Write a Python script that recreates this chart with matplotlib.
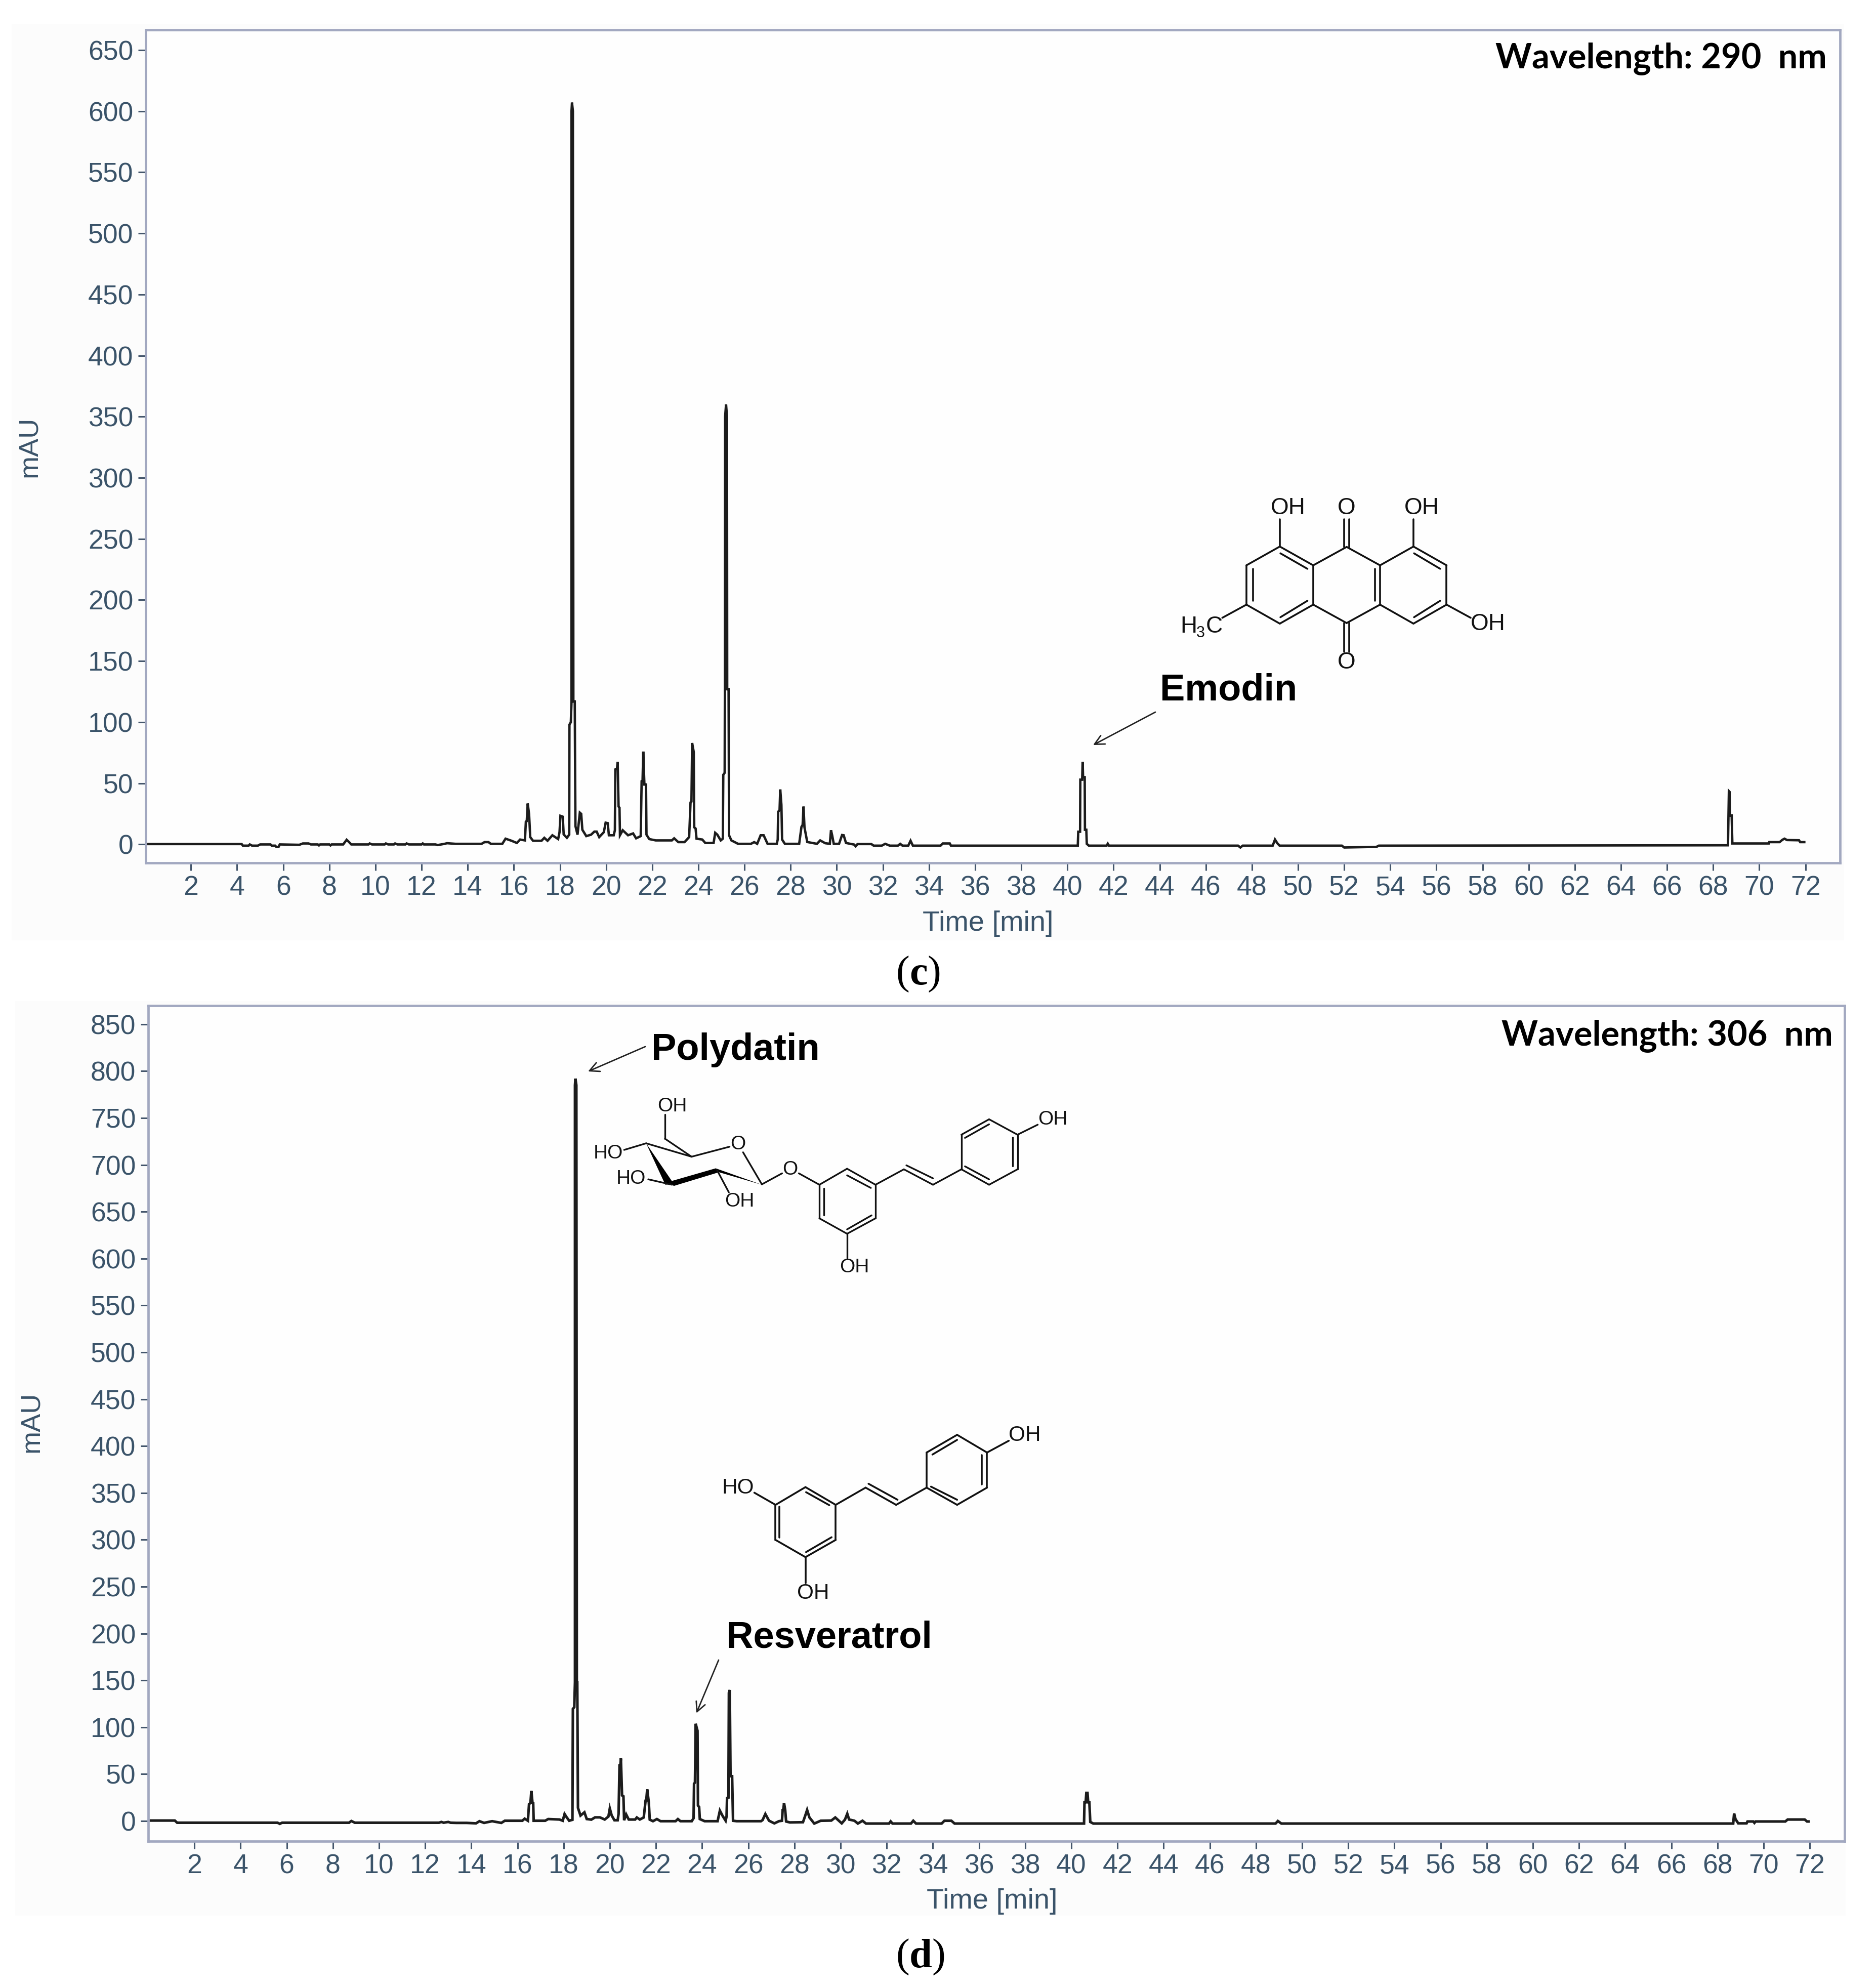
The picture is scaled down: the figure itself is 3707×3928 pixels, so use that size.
import matplotlib
matplotlib.use("Agg")
import matplotlib.pyplot as plt
from matplotlib.patches import Rectangle, Polygon

W, H = 3707, 3928

# ---------- data (time in min, signal in mAU) ----------
x_ticks = list(range(2, 73, 2))
y_ticks_290 = list(range(0, 651, 50))
y_ticks_306 = list(range(0, 851, 50))

trace_290 = [
 (0.05,0.3),(4.2,0.3),(4.25,-1),(4.5,-1),(4.55,0),(4.65,-1),(4.9,-1),(5.0,0),(5.45,0),(5.5,-1),(5.65,-1),(5.7,-2),
 (5.8,-2),(5.85,0),(6.7,-0.3),(6.85,0.8),(7.1,0.8),(7.2,0),(7.5,0),(7.55,-0.8),(7.6,0),(8.0,0),(8.05,-0.8),(8.1,0),
 (8.6,0),(8.75,3.8),(8.85,2),(8.95,0),(9.7,0),(9.75,0.8),(9.85,0),(10.4,0),(10.45,0.8),(10.55,0),(10.8,0),(10.85,0.8),
 (10.95,0),(11.3,0),(11.35,0.8),(11.45,0),(12.0,0),(12.05,0.8),(12.1,0),(12.6,0),(12.7,-0.5),(13.0,0.5),(13.1,1),
 (13.47,0.5),(14.6,0.5),(14.73,1.9),(14.9,1.9),(15.0,0.5),(15.5,0.5),(15.57,2.6),(15.64,4.7),(15.9,3),(16.13,1.2),
 (16.27,4),(16.48,3.3),(16.52,18.5),(16.56,19),(16.6,33.5),(16.66,24.8),(16.71,6),(16.83,3),(17.2,3),(17.32,5.4),
 (17.46,3),(17.67,7.5),(17.92,4.4),(17.98,10),(18.02,23.4),(18.12,22.7),(18.16,8.2),(18.3,5.4),(18.4,8),(18.41,98),
 (18.47,100),(18.5,117),(18.5,600),(18.52,607),(18.56,600),(18.58,117),(18.64,117),(18.67,15),(18.76,8),(18.86,26),
 (18.92,25),(18.97,12),(19.14,6.8),(19.35,8),(19.49,10.5),(19.59,10.5),(19.7,6),(19.9,10),(19.98,17.8),(20.07,17.4),
 (20.12,7.5),(20.33,7.5),(20.38,11.6),(20.4,61.4),(20.47,62),(20.5,67.6),(20.54,31),(20.58,30),(20.6,7.5),(20.72,11.6),
 (20.95,7.5),(21.17,9),(21.3,5),(21.5,6.8),(21.54,51.7),(21.58,52),(21.61,76),(21.66,49),(21.73,49),(21.75,8),
 (21.87,4.4),(22.15,3.3),(22.85,3.3),(22.95,5),(23.13,1.9),(23.4,1.9),(23.6,6),(23.66,34.4),(23.7,35),(23.73,83),
 (23.8,75.5),(23.82,14),(23.88,13),(23.92,4.7),(24.17,4),(24.3,1.2),(24.66,1.2),(24.73,9.5),(24.82,8),(24.97,3.3),
 (25.06,4.7),(25.08,57),(25.14,58.6),(25.15,127),(25.16,350),(25.2,360),(25.24,350),(25.25,127),(25.31,127),(25.33,7.5),
 (25.43,3.3),(25.72,0.5),(26.28,0.5),(26.42,1.9),(26.55,0.5),(26.7,7.5),(26.83,7.5),(27.0,0.5),(27.4,0.5),(27.44,4),
 (27.46,26.8),(27.52,28),(27.55,45),(27.6,32.4),(27.63,4),(27.75,0.5),(28.37,0.5),(28.47,14.4),(28.52,16),(28.56,31),
 (28.6,14),(28.72,2),(29.14,0.5),(29.28,3.3),(29.5,1),(29.7,0.5),(29.75,11.6),(29.8,7.5),(29.87,0.5),(30.1,0.5),
 (30.23,7.7),(30.3,7.5),(30.4,1.2),(30.75,-0.1),(30.82,-1.5),(30.9,0.3),(31.5,0.3),(31.6,-1),(31.95,-1),(32.1,0.5),
 (32.3,-1),(32.65,-1),(32.75,0.5),(32.85,-1),(33.1,-1),(33.2,3),(33.3,-1),(34.5,-1),(34.6,0.8),(34.9,0.8),(34.95,-1),
 (40.45,-1),(40.47,10.4),(40.55,10.4),(40.56,53),(40.64,53),(40.66,67.6),(40.68,55),(40.75,55),(40.76,12),(40.82,12),
 (40.84,0.5),(40.93,-1),(41.7,-1),(41.75,0.6),(41.8,-1),(47.4,-1),(47.5,-2.5),(47.6,-1),(48.9,-1),(49.0,4),(49.1,1),
 (49.2,-1),(51.9,-1),(52.0,-2.5),(53.4,-2),(53.5,-1),(68.64,-0.7),(68.68,43.6),(68.71,43),(68.73,23.7),(68.8,23.7),
 (68.83,0.8),(68.95,0.8),(70.41,0.8),(70.43,1.9),(70.88,1.9),(71.0,3.8),(71.09,4.7),(71.2,3.6),(71.72,3.4),(71.77,1.9),(72.0,1.9),
]

trace_306 = [
 (0.05,0.5),(1.15,0.5),(1.25,-1.8),(5.6,-1.8),(5.7,-3),(5.8,-1.8),(8.7,-1.8),(8.8,0),(8.95,-1.8),(12.6,-1.8),(12.7,-1),
 (12.8,-1.8),(13.0,-1),(13.1,-1.8),(13.35,-2),(13.8,-2),(14.2,-2.5),(14.35,-0.2),(14.55,-2),(14.9,-0.2),(15.3,-2),
 (15.45,0.3),(16.21,0.3),(16.31,2.5),(16.45,0.3),(16.5,18),(16.56,19.2),(16.6,32.1),(16.65,19.2),(16.68,19),(16.7,0.3),
 (17.2,0.3),(17.33,2.1),(17.82,1.6),(17.96,0.3),(18.04,7.5),(18.13,4),(18.24,0.3),(18.38,1.3),(18.4,119.6),(18.46,121.4),
 (18.49,148),(18.49,785),(18.51,792),(18.55,785),(18.57,148),(18.59,148),(18.62,14),(18.73,5.8),(18.9,9.3),(19.0,2.1),
 (19.2,1.5),(19.36,3.9),(19.57,3.9),(19.78,1.6),(19.94,4.8),(20.0,13.4),(20.08,6),(20.2,0.8),(20.34,0.8),(20.38,7.5),
 (20.42,59.5),(20.46,60),(20.48,66.8),(20.53,27.3),(20.59,26.4),(20.62,0.8),(20.71,7),(20.82,1.6),(21.1,1.6),(21.17,3.8),
 (21.3,1.6),(21.47,3.8),(21.55,21.8),(21.58,22),(21.62,33.8),(21.69,19.8),(21.73,1.5),(21.87,-0.2),(22.04,2.1),(22.2,-0.2),
 (22.85,-0.2),(22.95,2.1),(23.06,-0.2),(23.55,-0.2),(23.63,3),(23.65,39.8),(23.69,41),(23.72,103.8),(23.8,96.3),(23.82,16.5),
 (23.87,15),(23.9,2.1),(24.11,-0.2),(24.67,-0.2),(24.77,11.1),(24.88,5.8),(25.02,0.3),(25.06,5),(25.08,24.6),(25.14,25),
 (25.16,136.8),(25.2,139.8),(25.23,47.8),(25.3,47.8),(25.34,0.3),(25.5,-0.2),(26.55,-0.2),(26.62,1),(26.74,7.5),(26.9,0.3),
 (27.13,-2.5),(27.33,-0.2),(27.46,0.3),(27.49,11.8),(27.52,12),(27.55,19.2),(27.6,11.8),(27.64,-0.5),(27.8,-1.5),(28.37,-1.3),
 (28.47,5.8),(28.55,11.8),(28.65,3.8),(28.86,-2.7),(29.14,0.3),(29.6,0.5),(29.77,3.8),(30.05,-2.5),(30.19,1.5),(30.29,7.8),
 (30.37,1.6),(30.6,0.3),(30.75,-2.7),(30.95,0.3),(31.1,-2.7),(32.1,-2.7),(32.17,-0.4),(32.25,-2.7),(33.05,-2.7),(33.15,0.3),
 (33.27,-2.7),(34.38,-2.7),(34.5,0.3),(34.8,0.3),(34.94,-2.7),(40.55,-2.7),(40.57,20),(40.62,20),(40.65,30),(40.7,30),(40.73,20),
 (40.78,20),(40.82,-1),(40.95,-2.7),(48.85,-2.7),(48.95,0),(49.1,-2.7),(68.68,-2.7),(68.72,8),(68.78,2),(68.9,-2.5),(69.26,-2.5),
 (69.3,-0.5),(69.55,-0.5),(69.6,-2),(69.65,-0.5),(70.94,-0.5),(71.04,1.6),(71.78,1.6),(71.88,-0.5),(72.0,-0.5),
]

time_290 = [p[0] for p in trace_290]
mau_290 = [p[1] for p in trace_290]
time_306 = [p[0] for p in trace_306]
mau_306 = [p[1] for p in trace_306]

# ---------- styles ----------
SANS = ["Liberation Sans", "DejaVu Sans"]
SLATE = "#3a5369"
SPINE = "#a2a8c0"
LINE = "#1c1c1c"
plt.rcParams["font.family"] = SANS

fig = plt.figure(figsize=(W / 100, H / 100), dpi=100, facecolor="white")


def px_axes(l, t, r, b, z=1):
    return fig.add_axes([l / W, 1 - b / H, (r - l) / W, (b - t) / H], zorder=z)


# pale backing panels
bg = px_axes(0, 0, W, H, 0)
bg.set_xlim(0, W); bg.set_ylim(H, 0); bg.axis("off")
bg.add_patch(Rectangle((23, 48), 3621, 1810, fc="#fcfcfc", ec="none"))
bg.add_patch(Rectangle((30, 1978), 3617, 1807, fc="#fcfcfc", ec="none"))


def chromatogram(box, xlim, ylim, t, v, yticks, lw):
    ax = px_axes(*box)
    ax.set_facecolor("#fefefe")
    ax.plot(t, v, color=LINE, lw=lw, solid_joinstyle="miter", solid_capstyle="butt")
    ax.set_xlim(*xlim); ax.set_ylim(*ylim)
    ax.set_xticks(x_ticks); ax.set_yticks(yticks)
    ax.tick_params(axis="both", length=10.8, width=2.2, color="#44566c", labelcolor=SLATE,
                   labelsize=38.5, pad=7)
    for s in ax.spines.values():
        s.set_color(SPINE); s.set_linewidth(3.4)
    return ax


chromatogram((288, 58.7, 3636, 1704.7), (0.04, 73.5), (-15.0, 666.6), time_290, mau_290, y_ticks_290, 3.4)
chromatogram((293, 1987, 3645.5, 3637.7), (0.0, 73.52), (-21.4, 869.9), time_306, mau_306, y_ticks_306, 3.7)

# ---------- overlay in picture pixels ----------
ov = px_axes(0, 0, W, H, 5)
ov.set_xlim(0, W); ov.set_ylim(H, 0); ov.axis("off"); ov.patch.set_alpha(0)

ov.text(58, 883, "mAU", rotation=90, ha="center", va="center", fontsize=39, color=SLATE)
ov.text(62, 2810, "mAU", rotation=90, ha="center", va="center", fontsize=39, color=SLATE)
ov.text(1952, 1825, "Time [min]", ha="center", va="center", fontsize=40.2, color=SLATE)
ov.text(1960, 3757, "Time [min]", ha="center", va="center", fontsize=40.2, color=SLATE)

ov.text(3610, 135, "Wavelength: 290  nm", ha="right", va="baseline", fontsize=49.3,
        family=["Lato", "DejaVu Sans"], weight="bold", color="black")
ov.text(3622, 2066, "Wavelength: 306  nm", ha="right", va="baseline", fontsize=49.3,
        family=["Lato", "DejaVu Sans"], weight="bold", color="black")

for s, x, y in [("Emodin", 2292, 1383), ("Polydatin", 1287, 2094), ("Resveratrol", 1435, 3256)]:
    ov.text(x, y, s, ha="left", va="baseline", fontsize=53.3, weight="bold", color="black")

for start, tip in [((2283, 1407), (2160, 1472)), ((1275, 2068), (1162, 2117)), ((1420, 3280), (1376, 3385))]:
    ov.annotate("", xy=tip, xytext=start,
                arrowprops=dict(arrowstyle="->", lw=2.0, color="#222222", mutation_scale=34,
                                shrinkA=0, shrinkB=0))

SERIF = ["Liberation Serif", "DejaVu Serif"]
for letter, x, y in [("c", 1770, 1945), ("d", 1770, 3887)]:
    adv = 35 if letter == "c" else 44
    ov.text(x, y, "(", fontsize=58, family=SERIF, ha="left", va="baseline")
    ov.text(x + 27, y, letter, fontsize=58, family=SERIF, weight="bold", ha="left", va="baseline")
    ov.text(x + 27 + adv, y, ")", fontsize=58, family=SERIF, ha="left", va="baseline")


def molecule(x0, y0, sx, sy, bonds, labels, lw, fs, wedges=()):
    P = lambda a, b: (x0 + a / sx, y0 + b / sy)
    for a, b, c, d in bonds:
        (x1, y1), (x2, y2) = P(a, b), P(c, d)
        ov.plot([x1, x2], [y1, y2], color="#111111", lw=lw, solid_capstyle="round")
    for a, b, s in labels:
        x, y = P(a, b)
        ov.text(x, y, s, ha="center", va="center", fontsize=fs, color="#111111")
    for pts in wedges:
        ov.add_patch(Polygon([P(*q) for q in pts], closed=True, fc="black", ec="none"))
    return P


# Emodin
P = molecule(2200, 900, 1.742, 2.613, [
    (573,470,458,567),(458,567,458,770),(458,770,573,868),(573,868,688,770),(688,770,688,567),(688,567,573,470),
    (688,567,803,472),(803,472,918,567),(918,567,918,770),(918,770,803,865),(803,865,688,770),
    (918,567,1033,470),(1033,470,1147,567),(1147,567,1147,770),(1147,770,1033,868),(1033,868,918,770),
    (480,585,480,750),(575,505,668,585),(575,835,668,750),(900,585,900,750),(1035,505,1125,585),(1035,835,1125,750),
    (795,472,795,330),(812,472,812,330),(795,865,795,1015),(812,865,812,1015),
    (573,470,573,330),(1033,470,1033,330),(1147,770,1230,838),(458,770,375,838),
], [(602,272,"OH"),(803,272,"O"),(1062,272,"OH"),(1290,870,"OH"),(803,1070,"O")], 2.6, 33)
hx, hy = P(230, 914)
ov.text(hx, hy, "H", fontsize=33, ha="left", va="baseline", color="#111111")
ov.text(hx + 32, hy + 9, "3", fontsize=22, ha="left", va="baseline", color="#111111")
ov.text(hx + 51, hy, "C", fontsize=33, ha="left", va="baseline", color="#111111")

# Polydatin
molecule(1100, 2000, 1.4255, 2.529, [
    (190,688,252,655),(252,655,380,722),(380,722,487,672),(305,632,380,722),(305,632,305,510),(525,700,578,860),
    (452,790,485,900),(258,835,325,862),(578,860,635,805),(682,805,740,862),
    (740,862,818,782),(818,782,898,862),(898,862,898,1030),(898,1030,818,1107),(818,1107,740,1030),(740,1030,740,862),
    (818,815,885,878),(752,880,752,1015),(818,1085,887,1015),(818,1107,818,1230),
    (898,862,978,785),(978,785,1060,862),(1060,862,1140,785),(985,765,1060,830),
    (1140,785,1218,862),(1218,862,1298,785),(1298,785,1298,612),(1298,612,1218,535),(1218,535,1140,612),(1140,612,1140,785),
    (1150,770,1218,835),(1285,770,1285,625),(1218,560,1150,628),(1298,612,1355,562),
], [(325,470,"OH"),(145,705,"HO"),(210,832,"HO"),(515,945,"OH"),(510,660,"O"),(657,787,"O"),(838,1275,"OH"),(1398,537,"OH")],
    2.4, 28,
    wedges=[[(252,655),(306,862),(330,858)], [(315,848),(330,868),(460,798),(448,780)], [(448,780),(458,800),(578,862)]])

# Resveratrol
molecule(1300, 2800, 1.742, 3.0, [
    (508,415,612,520),(612,520,612,728),(612,728,508,830),(508,830,405,728),(405,728,405,520),(405,520,508,415),
    (510,445,590,522),(418,530,418,715),(510,800,598,712),(405,520,332,448),(508,830,508,985),
    (612,520,715,418),(715,418,820,520),(820,520,925,418),(725,395,825,490),
    (925,418,1030,520),(1030,520,1133,418),(1133,418,1133,210),(1133,210,1030,105),(1030,105,925,210),(925,210,925,418),
    (940,412,1030,490),(1115,400,1115,225),(1030,135,945,222),(1133,210,1208,140),
], [(275,420,"HO"),(535,1045,"OH"),(1262,107,"OH")], 2.6, 30.5)

fig.savefig("out.png", dpi=100, facecolor="white")
